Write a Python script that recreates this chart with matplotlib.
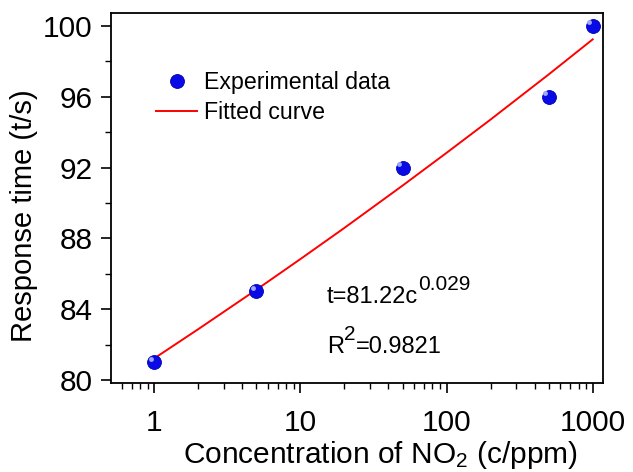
import matplotlib
matplotlib.use('Agg')
import matplotlib.pyplot as plt
import matplotlib.transforms as mtransforms
from matplotlib.ticker import MultipleLocator, LogLocator, NullFormatter, FixedLocator

plt.rcParams['font.family'] = ['Liberation Sans', 'DejaVu Sans']
plt.rcParams['mathtext.default'] = 'regular'

# Experimental data
conc = [1, 5, 50, 500, 1000]
resp_time = [81, 85, 92, 96, 100]

# Fitted curve t = 81.22 c^0.029
fit_conc = [1, 2, 5, 10, 20, 50, 100, 200, 500, 1000]
fit_time = [81.22, 82.87, 85.10, 86.83, 88.59, 90.98, 92.83, 94.71, 97.26, 99.24]

fig = plt.figure(figsize=(6.33, 4.72), dpi=100)
ax = fig.add_axes([0.1754, 0.1886, 0.7772, 0.7839])

ax.plot(fit_conc, fit_time, color='red', linewidth=1.4, label='Fitted curve', zorder=2)
ax.plot(conc, resp_time, linestyle='none', marker='o', markersize=10,
        markerfacecolor='#0a0ae6', markeredgecolor='#0000b0', markeredgewidth=0.6,
        label='Experimental data', zorder=3)
# small highlight on the spheres
hl = mtransforms.offset_copy(ax.transData, fig=fig, x=-2.5, y=2.5, units='points')
ax.plot(conc, resp_time, linestyle='none', marker='o', markersize=3.5,
        markerfacecolor='#9fa8ff', markeredgecolor='none', transform=hl, zorder=4)

ax.set_xscale('log')
ax.set_xlim(0.506, 1176)
ax.set_ylim(79.83, 100.73)

ax.xaxis.set_major_locator(FixedLocator([1, 10, 100, 1000]))
ax.set_xticklabels(['1', '10', '100', '1000'])
ax.xaxis.set_minor_locator(LogLocator(base=10, subs=range(2, 10)))
ax.xaxis.set_minor_formatter(NullFormatter())
ax.yaxis.set_major_locator(MultipleLocator(4))
ax.yaxis.set_minor_locator(MultipleLocator(2))

ax.tick_params(which='major', direction='out', length=7, width=1.2, labelsize=21.5,
               top=False, right=False)
ax.tick_params(which='minor', direction='out', length=4.5, width=1.0,
               top=False, right=False)
ax.tick_params(axis='x', which='major', pad=12)
ax.tick_params(axis='y', which='major', pad=6.5)
for s in ax.spines.values():
    s.set_linewidth(1.3)

ax.set_xlabel('Concentration of NO$_2$ (c/ppm)', fontsize=21.5, labelpad=1.5)
ax.xaxis.label.set_x(0.547)
ax.set_ylabel('Response time (t/s)', fontsize=21, labelpad=3)
ax.yaxis.label.set_y(0.451)

h, l = ax.get_legend_handles_labels()
ax.legend([h[1], h[0]], [l[1], l[0]], loc='upper left', bbox_to_anchor=(0.072, 0.868),
          frameon=False, fontsize=16.7, handlelength=1.8, handletextpad=0.3,
          labelspacing=0.3, borderaxespad=0)

eq = ax.text(0.439, 0.216, 't=81.22c', transform=ax.transAxes, fontsize=17)
ax.annotate('0.029', xy=(1.0, 0.62), xycoords=eq, fontsize=15, va='bottom', ha='left')
r2 = ax.text(0.439, 0.081, 'R', transform=ax.transAxes, fontsize=17)
r2b = ax.annotate('2', xy=(1.0, 0.62), xycoords=r2, fontsize=15, va='bottom', ha='left')
ax.annotate('=0.9821', xy=(1.0, 0.0), xycoords=(r2b, r2), fontsize=17,
            va='bottom', ha='left')

plt.savefig('out.png', dpi=100)
plt.close()
